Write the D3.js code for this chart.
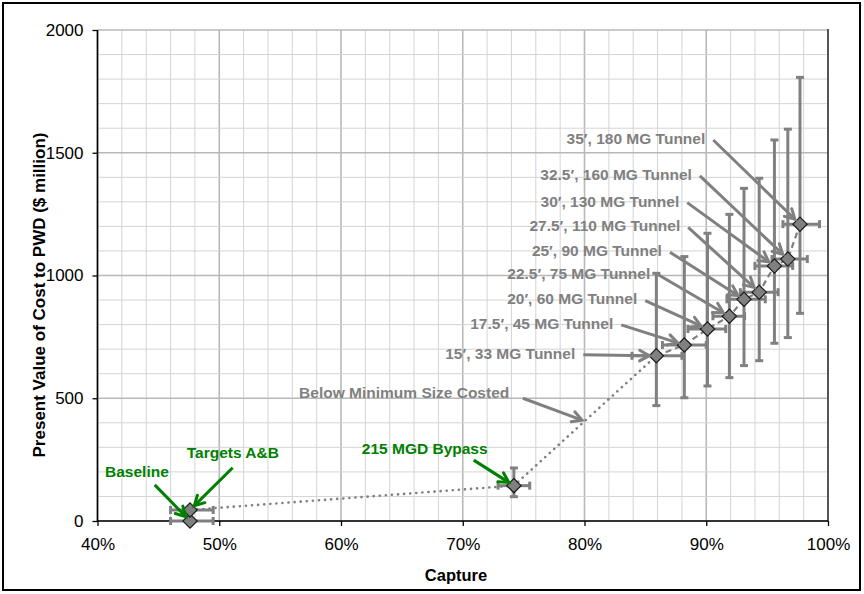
<!DOCTYPE html>
<html><head><meta charset="utf-8">
<script src="https://cdn.jsdelivr.net/npm/d3@7"></script>
<style>body{margin:0;background:#fff}svg{display:block}text{font-family:"Liberation Sans",Arial,sans-serif}</style>
</head><body><svg id="c" width="864" height="594"></svg>
<script>
// ---- data ----
const names = ["Baseline","Targets A&B","215 MGD Bypass",
  "15′, 33 MG Tunnel","17.5′, 45 MG Tunnel","20′, 60 MG Tunnel","22.5′, 75 MG Tunnel",
  "25′, 90 MG Tunnel","27.5′, 110 MG Tunnel","30′, 130 MG Tunnel","32.5′, 160 MG Tunnel","35′, 180 MG Tunnel"];
const capture     = [47.6, 47.6, 74.2, 85.9, 88.2, 90.1, 91.9, 93.1, 94.35, 95.6, 96.7, 97.7];
const captureLow  = [46.0, 46.0, 72.9, 83.9, 86.4, 88.5, 90.55, 91.7, 92.8, 94.0, 95.4, 96.3];
const captureHigh = [49.5, 49.5, 75.5, 88.0, 90.0, 91.6, 93.15, 94.85, 95.9, 97.1, 98.3, 99.3];
const cost        = [0, 45, 144, 673, 717, 782, 834, 903, 932, 1039, 1067, 1209];
const costLow     = [0, 45, 99, 470, 502, 550, 584, 633, 653, 724, 747, 846];
const costHigh    = [0, 45, 216, 1009, 1077, 1172, 1249, 1355, 1396, 1552, 1596, 1807];
const xTicks = [40, 50, 60, 70, 80, 90, 100];
const yTicks = [0, 500, 1000, 1500, 2000];
const xTitle = "Capture";
const yTitle = "Present Value of Cost to PWD ($ million)";
const noteText = "Below Minimum Size Costed";
const noteTarget = [79.8, 411];

// ---- layout (annotation placement in data units) ----
const tunnelLabelPos = [[79.24,683],[82.36,805],[84.33,904],[85.40,1009],[86.36,1101],[87.86,1202],[87.78,1303],[88.82,1412],[89.92,1558]];
const greenLabelPos = [[40.62,201],[47.33,278],[61.71,296]];
const greenArrowStart = [[44.7,147],[51.1,217],[70.9,248]];
const noteLabelPos = [56.56, 522.6];
const noteArrowStart = [74.94, 500];

const W = 864, H = 594;
const M = {l:97.5, r:828, t:30, b:521};
const svg = d3.select("#c");
const x = d3.scaleLinear().domain([40,100]).range([M.l, M.r]);
const y = d3.scaleLinear().domain([0,2000]).range([M.b, M.t]);

svg.append("rect").attr("x",0).attr("y",0).attr("width",W).attr("height",H).attr("fill","#fff");
svg.append("rect").attr("x",3).attr("y",3).attr("width",W-7).attr("height",H-7)
  .attr("fill","none").attr("stroke","#000").attr("stroke-width",2);

// grid
const g = svg.append("g");
const minorX = d3.range(40, 100.01, 2), minorY = d3.range(0, 2000.1, 100);
g.selectAll(".gx").data(minorX).join("line")
  .attr("x1",d=>x(d)).attr("x2",d=>x(d)).attr("y1",M.t).attr("y2",M.b)
  .attr("stroke",d=>d%10===0?"#b8b8b8":"#d4d4d4").attr("stroke-width",d=>d%10===0?1.6:1);
g.selectAll(".gy").data(minorY).join("line")
  .attr("y1",d=>y(d)).attr("y2",d=>y(d)).attr("x1",M.l).attr("x2",M.r)
  .attr("stroke",d=>d%500===0?"#b8b8b8":"#d4d4d4").attr("stroke-width",d=>d%500===0?1.6:1);
svg.append("line").attr("x1",M.r).attr("x2",M.r).attr("y1",M.t-1).attr("y2",M.b)
  .attr("stroke","#555").attr("stroke-width",2);

// axes
const xAxis = d3.axisBottom(x).tickValues(xTicks).tickFormat(d=>d+"%").tickSize(5).tickPadding(12);
const yAxis = d3.axisLeft(y).tickValues(yTicks).tickFormat(d3.format("d")).tickSize(5).tickPadding(9);
const ax = svg.append("g").attr("transform",`translate(0,${M.b})`).call(xAxis);
const ay = svg.append("g").attr("transform",`translate(${M.l},0)`).call(yAxis);
[ax,ay].forEach(a=>{
  a.select(".domain").attr("stroke","#000").attr("stroke-width",1.6);
  a.selectAll(".tick line").attr("stroke","#000").attr("stroke-width",1.3);
  a.selectAll("text").attr("font-size",17).attr("fill","#000").attr("font-family","Liberation Sans, Arial, sans-serif");
});
ax.select(".domain").attr("d",`M${M.l},0H${M.r}`);
ay.select(".domain").attr("d",`M0,${M.b}V${M.t}`);

svg.append("text").attr("x",456).attr("y",581).attr("text-anchor","middle")
  .attr("font-size",16.5).attr("font-weight","bold").text(xTitle);
svg.append("text").attr("transform","translate(45,295) rotate(-90)").attr("text-anchor","middle")
  .attr("font-size",17).attr("font-weight","bold").text(yTitle);

// series lines
const idx = d3.range(names.length);
const line = d3.line().x(i=>x(capture[i])).y(i=>y(cost[i]));
svg.append("path").attr("d",line([0,1,2,3])).attr("fill","none").attr("stroke","#808080")
  .attr("stroke-width",2.6).attr("stroke-linecap","round").attr("stroke-dasharray","0.1,6");
svg.append("path").attr("d",line(d3.range(3,names.length))).attr("fill","none").attr("stroke","#808080")
  .attr("stroke-width",2.2).attr("stroke-dasharray","6,4");

// error bars
const eb = svg.append("g").attr("stroke","#808080").attr("stroke-width",3);
idx.forEach(i=>{
  const cx = x(capture[i]), cy = y(cost[i]);
  eb.append("line").attr("x1",x(captureLow[i])).attr("x2",x(captureHigh[i])).attr("y1",cy).attr("y2",cy);
  [captureLow[i],captureHigh[i]].forEach(v=>eb.append("line").attr("x1",x(v)).attr("x2",x(v)).attr("y1",cy-4).attr("y2",cy+4));
  if (costHigh[i] > costLow[i]) {
    eb.append("line").attr("x1",cx).attr("x2",cx).attr("y1",y(costLow[i])).attr("y2",y(costHigh[i]));
    [costLow[i],costHigh[i]].forEach(v=>eb.append("line").attr("x1",cx-4).attr("x2",cx+4).attr("y1",y(v)).attr("y2",y(v)));
  }
});

// markers
svg.append("g").selectAll("path").data(idx).join("path")
  .attr("d",d3.symbol().type(d3.symbolDiamond2).size(130))
  .attr("transform",i=>`translate(${x(capture[i])},${y(cost[i])})`)
  .attr("fill","#808080").attr("stroke","#1a1a1a").attr("stroke-width",1.2);

// arrows
function arrow(x1,y1,x2,y2,color){
  const a = Math.atan2(y2-y1,x2-x1), L = 11, s = 0.5;
  svg.append("line").attr("x1",x1).attr("y1",y1).attr("x2",x2-Math.cos(a)*1.5).attr("y2",y2-Math.sin(a)*1.5)
    .attr("stroke",color).attr("stroke-width",3);
  const p1=[x2-L*Math.cos(a-s), y2-L*Math.sin(a-s)], p2=[x2-L*Math.cos(a+s), y2-L*Math.sin(a+s)];
  svg.append("path").attr("d",`M${p1}L${x2},${y2}L${p2}`).attr("fill","none")
    .attr("stroke",color).attr("stroke-width",3).attr("stroke-linejoin","miter").attr("stroke-linecap","round");
}

tunnelLabelPos.forEach((p,k)=>{
  const i = k+3;
  const lx = x(p[0]), ly = y(p[1]);
  svg.append("text").attr("x",lx).attr("y",ly).attr("dy","0.35em").attr("text-anchor","end")
    .attr("font-size",15.5).attr("font-weight","bold").attr("fill","#808080").text(names[i]);
  const sx = lx+8, sy = ly+1.5;
  const px = x(capture[i]), py = y(cost[i]);
  const a = Math.atan2(py-sy, px-sx), d = 7;
  arrow(sx, sy, px-Math.cos(a)*d, py-Math.sin(a)*d, "#808080");
});

svg.append("text").attr("x",x(noteLabelPos[0])).attr("y",y(noteLabelPos[1])).attr("dy","0.35em")
  .attr("font-size",15.5).attr("font-weight","bold").attr("fill","#808080").text(noteText);
arrow(x(noteArrowStart[0]), y(noteArrowStart[1]), x(noteTarget[0]), y(noteTarget[1]), "#808080");

greenLabelPos.forEach((p,k)=>{
  svg.append("text").attr("x",x(p[0])).attr("y",y(p[1])).attr("dy","0.35em")
    .attr("font-size",15.5).attr("font-weight","bold").attr("fill","#008000").text(names[k]);
  const sx = x(greenArrowStart[k][0]), sy = y(greenArrowStart[k][1]);
  const px = x(capture[k]), py = y(cost[k]);
  const a = Math.atan2(py-sy, px-sx), d = 6;
  arrow(sx, sy, px-Math.cos(a)*d, py-Math.sin(a)*d, "#008000");
});
</script></body></html>
